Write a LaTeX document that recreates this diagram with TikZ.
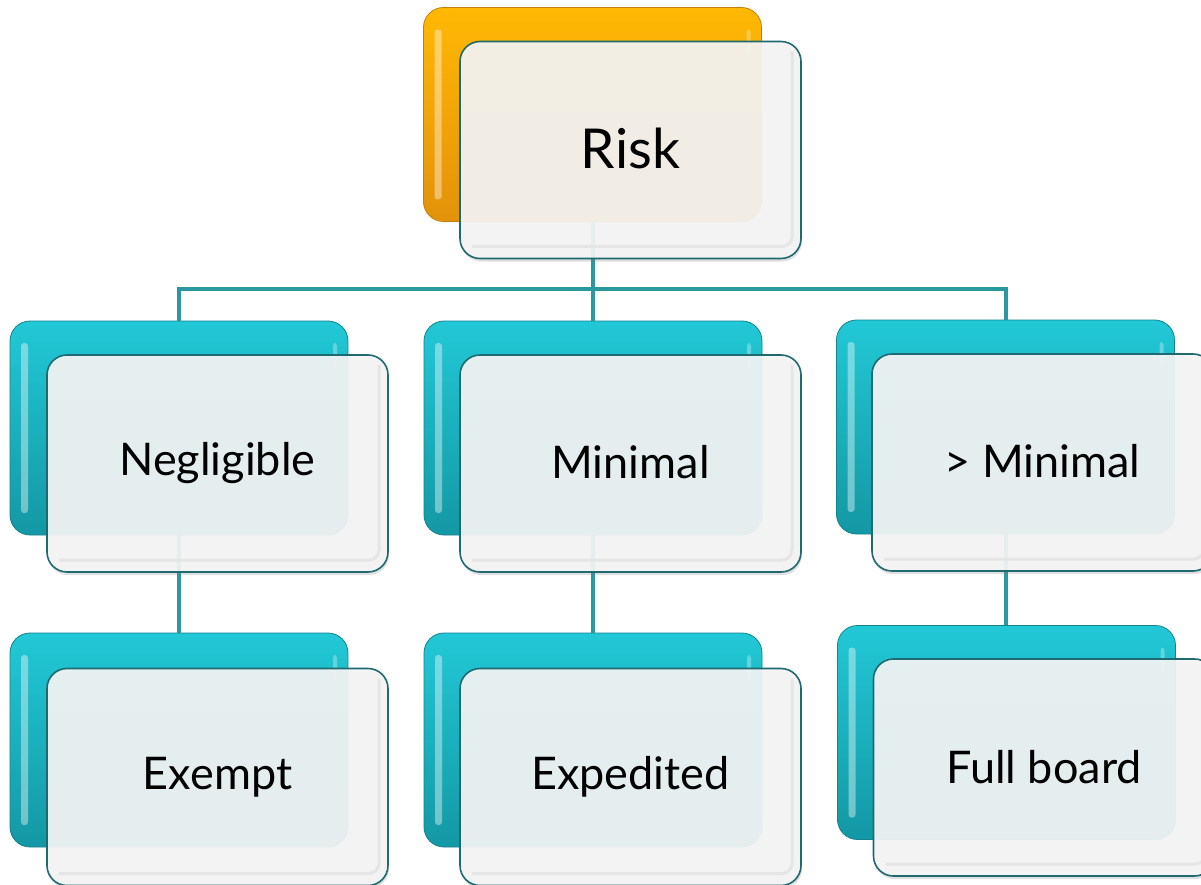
\documentclass[tikz,border=0pt]{standalone}
\usepackage{fontspec}
\setmainfont{Lato}
\usetikzlibrary{shadows}
\definecolor{tealA}{HTML}{22C8D6}
\definecolor{tealB}{HTML}{1398A4}
\definecolor{tealEdge}{HTML}{13838E}
\definecolor{orA}{HTML}{FFB804}
\definecolor{orB}{HTML}{E2920A}
\definecolor{orEdge}{HTML}{C57F08}
\definecolor{frontEdge}{HTML}{1E6A70}
\definecolor{connCol}{HTML}{2A98A0}
\definecolor{frontFill}{HTML}{F5F5F5}
\begin{document}
\begin{tikzpicture}[x=1pt,y=-1pt,
  backbox/.style={rectangle, rounded corners=20pt, minimum width=338pt, minimum height=214pt,
    inner sep=0pt, top color=tealA, bottom color=tealB, draw=tealEdge, line width=0.8pt,
    path picture={\fill[white,opacity=0.4,rounded corners=3pt]
      ([xshift=11pt,yshift=-22pt]path picture bounding box.north west) rectangle
      ([xshift=18pt,yshift=22pt]path picture bounding box.south west);
      \fill[white,opacity=0.3,rounded corners=3pt]
      ([xshift=-11pt,yshift=-22pt]path picture bounding box.north east) rectangle
      ([xshift=-15pt,yshift=60pt]path picture bounding box.east);}},
  orbox/.style={backbox, top color=orA, bottom color=orB, draw=orEdge},
  frontbox/.style={rectangle, rounded corners=20pt, minimum width=341pt, minimum height=217pt,
    inner sep=0pt, fill=frontFill, fill opacity=0.92, text opacity=1, draw=frontEdge,
    line width=1.6pt, font=\fontsize{45}{54}\selectfont,
    drop shadow={shadow xshift=1pt, shadow yshift=-3pt, opacity=0.25},
    path picture={\draw[black!10,line width=3pt,rounded corners=10pt]
      ([xshift=-9pt,yshift=-10pt]path picture bounding box.north east) --
      ([xshift=-9pt,yshift=12pt]path picture bounding box.south east) --
      ([xshift=12pt,yshift=12pt]path picture bounding box.south west);}},
  conn/.style={draw=connCol, line width=4pt}
]
\useasboundingbox (0,0) rectangle (1201,885);
\fill[white] (0,0) rectangle (1201,885);
\clip (0,0) rectangle (1201,885);

% back boxes
\node[orbox]   (rb)  at (592.5,114.5) {};
\node[backbox] (l2b) at (179,428) {};
\node[backbox] (m2b) at (593,428) {};
\node[backbox] (r2b) at (1005.5,427) {};
\node[backbox] (l3b) at (179,740) {};
\node[backbox] (m3b) at (593,740) {};
\node[backbox] (r3b) at (1006.5,732.5) {};

% connectors (behind the front boxes)
\coordinate (bus) at (0,289);
\draw[conn] (rb.south) -- (rb.south |- bus);
\draw[conn] (l2b.north) |- (r2b.north |- bus) -- (r2b.north);
\draw[conn] (m2b.north) -- (m2b.north |- bus);
\draw[conn] (l2b.south) -- (l3b.north);
\draw[conn] (m2b.south) -- (m3b.north);
\draw[conn] (r2b.south) -- (r2b.south |- r3b.north);

% front boxes
\node[frontbox, font=\fontsize{55}{64}\selectfont] (rf) at (630.5,150) {\raisebox{4pt}{Risk}};
\node[frontbox] (l2f) at (217.5,463.5) {Negligible};
\node[frontbox] (m2f) at (630.5,463.5) {\raisebox{2.5pt}{Minimal}};
\node[frontbox] (r2f) at (1042.5,462.5) {\raisebox{2.5pt}{> Minimal}};
\node[frontbox] (l3f) at (217.5,777) {\raisebox{3pt}{Exempt}};
\node[frontbox] (m3f) at (630.5,777) {Expedited};
\node[frontbox] (r3f) at (1044,767.5) {Full board};
\end{tikzpicture}
\end{document}
